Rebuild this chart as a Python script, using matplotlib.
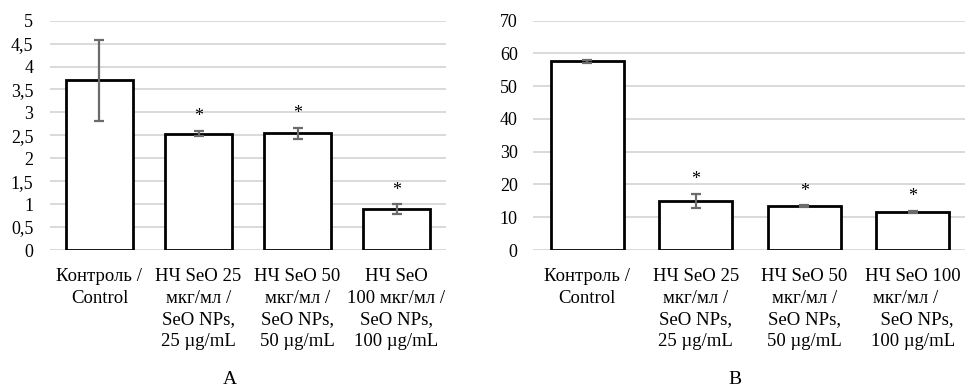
import matplotlib

matplotlib.use("Agg")
import matplotlib.pyplot as plt
import numpy as np
from matplotlib.ticker import FuncFormatter

# panel A
labels_a = [
    "Контроль /\nControl",
    "НЧ SeO 25\nмкг/мл /\nSeO NPs,\n25 µg/mL",
    "НЧ SeO 50\nмкг/мл /\nSeO NPs,\n50 µg/mL",
    "НЧ SeO\n100 мкг/мл /\nSeO NPs,\n100 µg/mL",
]
values_a = [3.70, 2.54, 2.55, 0.89]
errors_a = [0.88, 0.06, 0.12, 0.11]
signif_a = [False, True, True, True]
yticks_a = [0, 0.5, 1, 1.5, 2, 2.5, 3, 3.5, 4, 4.5, 5]

# panel B
labels_b = [
    "Контроль /\nControl",
    "НЧ SeO 25\nмкг/мл /\nSeO NPs,\n25 µg/mL",
    "НЧ SeO 50\nмкг/мл /\nSeO NPs,\n50 µg/mL",
    "НЧ SeO 100\nмкг/мл /   \n  SeO NPs,\n100 µg/mL",
]
values_b = [57.6, 14.9, 13.4, 11.6]
errors_b = [0.5, 2.2, 0.3, 0.3]
signif_b = [False, True, True, True]
yticks_b = [0, 10, 20, 30, 40, 50, 60, 70]

panel_names = ["A", "B"]

plt.rcParams["font.family"] = "serif"
plt.rcParams["font.serif"] = ["Liberation Serif", "DejaVu Serif"]
plt.rcParams["font.size"] = 13


def draw_panel(ax, labels, values, errors, signif, yticks):
    """
    Bar chart with error bars and significance marks.
    """
    x = np.arange(len(values))
    ax.bar(x, values, width=0.67, color="white", edgecolor="black",
           linewidth=2.0, zorder=2)
    ax.errorbar(x, values, yerr=errors, fmt="none", ecolor="#6b6b6b",
                elinewidth=1.6, capsize=3.4, capthick=1.6, zorder=3)
    for i, star in enumerate(signif):
        if star:
            ax.annotate("*", xy=(x[i], values[i] + errors[i]),
                        xytext=(0, 4), textcoords="offset points",
                        ha="center", va="bottom", fontsize=13)
    ax.set_xlim(-0.5, len(values) - 0.5)
    ax.set_ylim(yticks[0], yticks[-1])
    ax.set_yticks(yticks)
    ax.yaxis.set_major_formatter(
        FuncFormatter(lambda v, pos: f"{v:g}".replace(".", ","))
    )
    ax.set_xticks(x)
    ax.set_xticklabels(labels, linespacing=1.35, fontsize=13.5)
    ax.set_axisbelow(True)
    ax.yaxis.grid(True, color="#d9d9d9", linewidth=1.4)
    for spine in ax.spines.values():
        spine.set_visible(False)
    ax.tick_params(axis="y", length=0, pad=12)
    ax.tick_params(axis="x", length=0, pad=13)


fig = plt.figure(figsize=(9.65, 3.89), dpi=100)
ax_a = fig.add_axes([0.0518, 0.3573, 0.4104, 0.5895])
ax_b = fig.add_axes([0.5523, 0.3573, 0.4497, 0.5895])

draw_panel(ax_a, labels_a, values_a, errors_a, signif_a, yticks_a)
draw_panel(ax_b, labels_b, values_b, errors_b, signif_b, yticks_b)
ax_b.tick_params(axis="y", pad=11)

fig.text(0.238, 0.003, panel_names[0], ha="center", va="bottom", fontsize=14)
fig.text(0.762, 0.003, panel_names[1], ha="center", va="bottom", fontsize=14)

fig.savefig("out.png", dpi=100)
